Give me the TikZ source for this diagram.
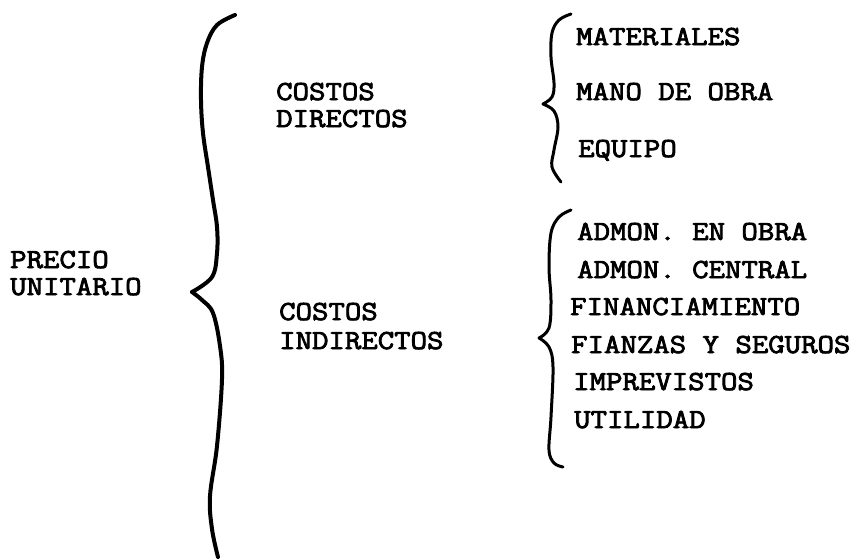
\documentclass[tikz,border=0pt]{standalone}
\usepackage{fontspec}
\newfontfamily\typew{Latin Modern Mono}[FakeBold=3,FakeStretch=1.16]
\begin{document}
\begin{tikzpicture}[x=1pt,y=-1pt,
  lbl/.style={anchor=base west,inner sep=0pt,font=\typew\fontsize{27.5}{30}\selectfont},
  bigbrace/.style={line width=4pt,line cap=round,line join=round},
  smallbrace/.style={line width=3pt,line cap=round,line join=round}]
\useasboundingbox (0,0) rectangle (852,558);
% labels
\node[lbl] (p1) at (10,268) {PRECIO};
\node[lbl] (p2) at (10,295) {UNITARIO};
\node[lbl] (cd1) at (276,100) {COSTOS};
\node[lbl] (cd2) at (276,127) {DIRECTOS};
\node[lbl] (ci1) at (279,320) {COSTOS};
\node[lbl] (ci2) at (279,349) {INDIRECTOS};
\node[lbl] (m1) at (576,45) {MATERIALES};
\node[lbl] (m2) at (576,100) {MANO DE OBRA};
\node[lbl] (m3) at (578,157) {EQUIPO};
\node[lbl] (i1) at (577,240) {ADMON. EN OBRA};
\node[lbl] (i2) at (577,278) {ADMON. CENTRAL};
\node[lbl] (i3) at (570,315) {FINANCIAMIENTO};
\node[lbl] (i4) at (571,353) {FIANZAS Y SEGUROS};
\node[lbl] (i5) at (573,390) {IMPREVISTOS};
\node[lbl] (i6) at (574,428) {UTILIDAD};
% big brace
\draw[bigbrace] plot[smooth,tension=0.6] coordinates {(235,15) (217,25) (207,43) (202,67) (201,100) (203,133) (208,167) (213,200) (217,227) (217,253) (212,277) (192,292)};
\draw[bigbrace] plot[smooth,tension=0.6] coordinates {(192,292) (202,300) (213,313) (220,346) (222,379) (217,446) (210,496) (212,529) (218,557)};
% small brace 1
\draw[smallbrace] plot[smooth,tension=0.6] coordinates {(571,14) (559,20) (552,33) (551,57) (554,83) (552,97) (543,104)};
\draw[smallbrace] plot[smooth,tension=0.6] coordinates {(543,104) (554,111) (558,127) (554,150) (552,167) (561,182)};
% small brace 2
\draw[smallbrace] plot[smooth,tension=0.6] coordinates {(571,210) (559,217) (551,233) (549,267) (551,300) (549,328) (539,338)};
\draw[smallbrace] plot[smooth,tension=0.6] coordinates {(539,338) (549,347) (553,367) (551,417) (549,450) (554,463) (563,467)};
\end{tikzpicture}
\end{document}
